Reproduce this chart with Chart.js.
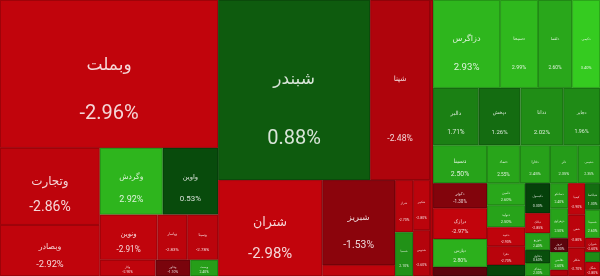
<!DOCTYPE html>
<html>
<head>
<meta charset="utf-8">
<script src="https://cdn.jsdelivr.net/npm/chart.js@4.4.0/dist/chart.umd.min.js"></script>
<style>
  html, body { margin: 0; padding: 0; background: #fff; }
  #wrap { width: 600px; height: 276px; }
</style>
</head>
<body>
<div id="wrap"><canvas id="map"></canvas></div>
<script>
// tickers, weight (tile size) and daily change in percent
const tickers = [
  'وبملت', 'وتجارت', 'وبصادر', 'وگردش', 'واوین', 'ونوین', 'وپاسار', 'وسینا', 'وکار', 'وخاور', 'وپست',
  'شبندر', 'شپنا', 'شتران', 'شبریز', 'شاوان', 'شراز', 'شسپا', 'شکبیر', 'شدوص',
  'شنفت',
  'دزاگرس', 'دسبحا', 'دلقما', 'دکیمی',
  'دالبر', 'دپخش', 'ددانا', 'دجابر',
  'دسینا', 'دتماد', 'دفارا', 'دلر', 'دشیمی',
  'دکوثر', 'درازک', 'دپارس', 'داسوه',
  'دامین', 'دتولید', 'دعبید', 'دفرا', 'دیران',
  'دکپسول', 'دبالک', 'دتوزیع', 'دحاوی', 'دشاک',
  'دسانکو', 'دزهراوی', 'دروز', 'دقاضی', 'دارو',
  'کیمیا', 'شفن', 'شکلر',
  'شپاکسا', 'شسینا', 'شیران', 'شفارس', 'شگل'
];
const weights = [
  323, 77, 51, 42, 37, 26, 13.5, 14, 9, 5.6, 4.5,
  274, 108, 100, 62, 8, 9.4, 7.9, 8.5, 7.8,
  8.3,
  59, 33.4, 30, 24.6,
  26.2, 23.9, 24.5, 21.1,
  20.5, 12.5, 11.4, 10.6, 8.4,
  13.5, 16.7, 15.1, 4.9,
  8.4, 8.4, 7.2, 7.2, 4.2,
  7.5, 5, 4.25, 3.25, 3.25,
  4.5, 5.4, 2.5, 3.2, 1.1,
  5.4, 5.6, 4.8,
  4, 4.2, 2.1, 1.5, 2.1
];
const changes = [
  -2.96, -2.86, -2.92, 2.92, 0.53, -2.91, -2.83, -2.78, -2.9, -1.1, 2.4,
  0.88, -2.48, -2.98, -1.53, -2.9, -2.7, 2.1, -2.8, -2.6,
  -2.5,
  2.93, 2.99, 2.6, 3.4,
  1.71, 1.26, 2.02, 1.96,
  2.5, 2.55, 2.45, 2.35, 2.35,
  -1.3, -2.97, 2.8, -0.3,
  2.6, 2.5, -2.9, -2.7, 0.4,
  0.3, -2.85, 2.4, 0.6, 2.3,
  2.4, 2.5, -0.3, 2.6, -2.5,
  -2.9, -2.8, -2.7,
  1.3, 2.6, -2.6, 2.0, -2.8
];
// grouping: 'h' splits side by side, 'v' stacks; numbers are ticker indices
const nesting = ['h',
  ['v', 0, ['h', ['v', 1, 2], ['v', ['h', 3, 4], ['h', 5, 6, 7], ['h', 8, 9, 10]]]],
  ['v', ['h', 11, 12], ['h', 13, ['v', 14, 15], ['v', 16, 17], ['v', 18, 19]]],
  20,
  ['v', ['h', 21, 22, 23, 24], ['h', 25, 26, 27, 28], ['h', 29, 30, 31, 32, 33],
    ['h', ['v', 34, 35, 36, 37], ['v', 38, 39, 40, 41, 42], ['v', 43, 44, 45, 46, 47],
          ['v', 48, 49, 50, 51, 52], ['v', 53, 54, 55], ['v', 56, 57, 58, 59, 60]]]
];

function total(node) {
  if (typeof node === 'number') return weights[node];
  return node.slice(1).reduce((s, c) => s + total(c), 0);
}

// slice-and-dice layout in axis units (0..100 both ways)
function place(node, x0, y0, x1, y1, out) {
  if (typeof node === 'number') {
    out.push({ i: node, x0, y0, x1, y1 });
    return;
  }
  const dir = node[0];
  const kids = node.slice(1);
  const sum = total(node);
  let pos = dir === 'h' ? x0 : y0;
  kids.forEach(k => {
    const span = (dir === 'h' ? x1 - x0 : y1 - y0) * total(k) / sum;
    if (dir === 'h') place(k, pos, y0, pos + span, y1, out);
    else place(k, x0, pos, x1, pos + span, out);
    pos += span;
  });
}

const cells = [];
place(nesting, 0, 0, 100, 100, cells);

function tone(p) {
  if (p >= 0) {
    const t = Math.min(p / 3.5, 1);
    return `rgb(${Math.round(55 * t)},${Math.round(52 + 155 * t)},${Math.round(8 + 25 * t)})`;
  }
  const t = Math.min(-p / 3, 1);
  return `rgb(${Math.round(80 + 115 * t)},4,12)`;
}

const tiles = {
  id: 'tiles',
  afterDatasetsDraw(chart) {
    const { ctx, scales: { x, y } } = chart;
    ctx.save();
    cells.forEach(c => {
      const px0 = x.getPixelForValue(c.x0), px1 = x.getPixelForValue(c.x1);
      const py0 = y.getPixelForValue(c.y0), py1 = y.getPixelForValue(c.y1);
      const w = px1 - px0, h = py1 - py0;
      ctx.fillStyle = tone(changes[c.i]);
      ctx.fillRect(px0, py0, w, h);
      ctx.strokeStyle = 'rgba(0,0,0,0.18)';
      ctx.lineWidth = 1;
      ctx.strokeRect(px0 + 0.5, py0 + 0.5, w - 1, h - 1);

      if (w < 12 || h < 12) return;
      const f = Math.max(Math.min(w / 7, h / 5.5, 20), 3.5);
      ctx.fillStyle = 'rgba(255,255,255,0.84)';
      ctx.textAlign = 'center';
      ctx.textBaseline = 'middle';
      const cx = px0 + w / 2;
      ctx.font = `${(f * 0.85).toFixed(1)}px "DejaVu Sans", sans-serif`;
      ctx.fillText(tickers[c.i], cx, py0 + h * 0.44);
      ctx.font = `${f.toFixed(1)}px Roboto, sans-serif`;
      ctx.fillText(changes[c.i].toFixed(2) + '%', cx, py0 + h * 0.77);
    });
    ctx.restore();
  }
};

new Chart(document.getElementById('map'), {
  type: 'scatter',
  data: {
    datasets: [{
      data: cells.map(c => ({ x: (c.x0 + c.x1) / 2, y: (c.y0 + c.y1) / 2 })),
      pointRadius: 0
    }]
  },
  options: {
    responsive: true,
    maintainAspectRatio: false,
    animation: false,
    layout: { padding: 0 },
    scales: {
      x: { type: 'linear', min: 0, max: 100, display: false },
      y: { type: 'linear', min: 0, max: 100, reverse: true, display: false }
    },
    plugins: { legend: { display: false }, tooltip: { enabled: false } }
  },
  plugins: [tiles]
});
</script>
</body>
</html>
